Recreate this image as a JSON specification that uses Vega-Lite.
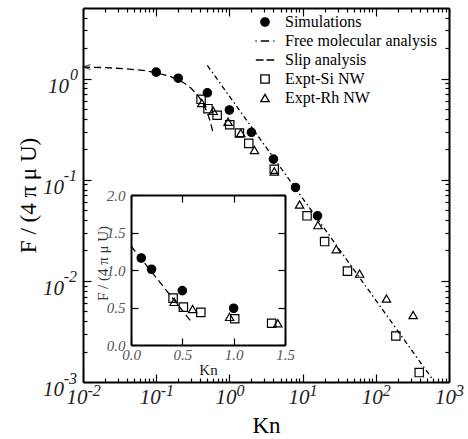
{
  "$schema": "https://vega.github.io/schema/vega-lite/v6.json",
  "width": 366,
  "height": 374,
  "autosize": "none",
  "padding": {"left": 83, "top": 8, "right": 19, "bottom": 57},
  "background": "white",
  "config": {"view": {"stroke": null}, "font": "Liberation Serif", "axis": {"grid": false}},
  "datasets": {
    "pts": [
      {"s": "Simulations", "kn": 0.1, "f": 1.16},
      {"s": "Simulations", "kn": 0.2, "f": 1.01},
      {"s": "Simulations", "kn": 0.5, "f": 0.725},
      {"s": "Simulations", "kn": 1.0, "f": 0.49},
      {"s": "Simulations", "kn": 2.0, "f": 0.295},
      {"s": "Simulations", "kn": 4.0, "f": 0.16},
      {"s": "Simulations", "kn": 8.0, "f": 0.084},
      {"s": "Simulations", "kn": 16.0, "f": 0.044},
      {"s": "Expt-Si NW", "kn": 0.41, "f": 0.625},
      {"s": "Expt-Si NW", "kn": 0.51, "f": 0.505},
      {"s": "Expt-Si NW", "kn": 0.68, "f": 0.435},
      {"s": "Expt-Si NW", "kn": 1.01, "f": 0.35},
      {"s": "Expt-Si NW", "kn": 1.37, "f": 0.29},
      {"s": "Expt-Si NW", "kn": 1.84, "f": 0.229},
      {"s": "Expt-Si NW", "kn": 4.1, "f": 0.127},
      {"s": "Expt-Si NW", "kn": 11.5, "f": 0.044},
      {"s": "Expt-Si NW", "kn": 20, "f": 0.0245},
      {"s": "Expt-Si NW", "kn": 41, "f": 0.0125},
      {"s": "Expt-Si NW", "kn": 188, "f": 0.00285},
      {"s": "Expt-Si NW", "kn": 392, "f": 0.00124},
      {"s": "Expt-Rh NW", "kn": 0.42, "f": 0.575},
      {"s": "Expt-Rh NW", "kn": 0.6, "f": 0.48},
      {"s": "Expt-Rh NW", "kn": 0.96, "f": 0.375},
      {"s": "Expt-Rh NW", "kn": 1.43, "f": 0.29},
      {"s": "Expt-Rh NW", "kn": 2.2, "f": 0.197},
      {"s": "Expt-Rh NW", "kn": 4.1, "f": 0.121},
      {"s": "Expt-Rh NW", "kn": 9.1, "f": 0.057},
      {"s": "Expt-Rh NW", "kn": 16.2, "f": 0.0356},
      {"s": "Expt-Rh NW", "kn": 28.8, "f": 0.0206},
      {"s": "Expt-Rh NW", "kn": 60, "f": 0.0118},
      {"s": "Expt-Rh NW", "kn": 140, "f": 0.0067},
      {"s": "Expt-Rh NW", "kn": 324, "f": 0.0046}
    ],
    "slip": [
      {"kn": 0, "f": 1.32},
      {"kn": 0.01, "f": 1.303},
      {"kn": 0.02, "f": 1.286},
      {"kn": 0.04, "f": 1.251},
      {"kn": 0.07, "f": 1.2},
      {"kn": 0.1, "f": 1.148},
      {"kn": 0.15, "f": 1.062},
      {"kn": 0.2, "f": 0.976},
      {"kn": 0.25, "f": 0.89},
      {"kn": 0.3, "f": 0.804},
      {"kn": 0.35, "f": 0.718},
      {"kn": 0.4, "f": 0.632},
      {"kn": 0.45, "f": 0.546},
      {"kn": 0.5, "f": 0.46},
      {"kn": 0.55, "f": 0.374},
      {"kn": 0.6, "f": 0.288}
    ],
    "freemol": [
      {"kn": 0.5, "f": 1.35},
      {"kn": 603, "f": 0.00105}
    ],
    "box": [
      {"x0": 0, "x1": 1.5, "y0": 0, "y1": 2}
    ]
  },
  "resolve": {"scale": {"x": "independent", "y": "independent"}},
  "layer": [
    {
      "data": {"name": "freemol"},
      "mark": {"type": "line", "stroke": "black", "strokeWidth": 1.3, "strokeDash": [5, 3, 1.5, 3]},
      "encoding": {
        "x": {"field": "kn", "type": "quantitative",
          "scale": {"type": "log", "domain": [0.01, 1000], "nice": false},
          "axis": {"orient": "bottom", "labels": false, "title": null,
            "values": [0.01,0.02,0.03,0.04,0.05,0.06,0.07,0.08,0.09,0.1,0.2,0.3,0.4,0.5,0.6,0.7,0.8,0.9,1,2,3,4,5,6,7,8,9,10,20,30,40,50,60,70,80,90,100,200,300,400,500,600,700,800,900,1000],
            "tickSize": {"condition": {"test": "abs(log(datum.value)/LN10 - round(log(datum.value)/LN10)) < 0.001", "value": -8}, "value": -4},
            "tickColor": "black", "tickWidth": 1.2, "domainColor": "black", "domainWidth": 2}},
        "y": {"field": "f", "type": "quantitative",
          "scale": {"type": "log", "domain": [0.001, 5], "nice": false},
          "axis": {"orient": "left", "labels": false, "title": null,
            "values": [0.001,0.002,0.003,0.004,0.005,0.006,0.007,0.008,0.009,0.01,0.02,0.03,0.04,0.05,0.06,0.07,0.08,0.09,0.1,0.2,0.3,0.4,0.5,0.6,0.7,0.8,0.9,1,2,3,4],
            "tickSize": {"condition": {"test": "abs(log(datum.value)/LN10 - round(log(datum.value)/LN10)) < 0.001", "value": -8}, "value": -4},
            "tickColor": "black", "tickWidth": 1.2, "domainColor": "black", "domainWidth": 2}}
      }
    },
    {
      "data": {"name": "slip"},
      "transform": [{"filter": "datum.kn > 0"}],
      "mark": {"type": "line", "stroke": "black", "strokeWidth": 1.3, "strokeDash": [7, 4]},
      "encoding": {
        "x": {"field": "kn", "type": "quantitative",
          "scale": {"type": "log", "domain": [0.01, 1000], "nice": false},
          "axis": {"orient": "bottom", "values": [0.01, 0.1, 1, 10, 100, 1000],
            "ticks": false, "tickSize": 0, "domain": false,
            "labelExpr": "'10'", "labelFont": "Liberation Serif", "labelFontStyle": "italic", "labelFontSize": 21, "labelColor": "#222",
            "labelAlign": "right", "labelBaseline": "alphabetic", "labelPadding": 21,
            "labelOffset": {"condition": {"test": "datum.value < 1", "value": 4}, "value": 6.5},
            "labelOverlap": false, "labelFlush": false, "labelBound": false,
            "title": "Kn", "titleFont": "Liberation Serif", "titleFontSize": 23, "titleFontWeight": "normal", "titleColor": "black",
            "titleBaseline": "alphabetic", "titleY": 50}},
        "y": {"field": "f", "type": "quantitative",
          "scale": {"type": "log", "domain": [0.001, 5], "nice": false},
          "axis": {"orient": "left", "values": [0.001, 0.01, 0.1, 1],
            "ticks": false, "tickSize": 0, "domain": false,
            "labelExpr": "'10'", "labelFont": "Liberation Serif", "labelFontStyle": "italic", "labelFontSize": 21, "labelColor": "#222",
            "labelAlign": "right", "labelBaseline": "alphabetic", "labelOffset": 13.5,
            "labelPadding": {"condition": {"test": "datum.value >= 1", "value": 14.5}, "value": 19.5},
            "labelOverlap": false, "labelFlush": false, "labelBound": false,
            "title": "F / (4 π μ U)", "titleFont": "Liberation Serif", "titleFontSize": 23, "titleFontWeight": "normal", "titleColor": "black",
            "titleAngle": -90, "titleBaseline": "alphabetic", "titleAlign": "center", "titleX": -48, "titleY": 187}}
      }
    },
    {
      "data": {"name": "slip"},
      "transform": [{"filter": "datum.kn == 0.01"}],
      "mark": {"type": "point", "shape": "M2.4,-0.8L0,0L2.4,0.8", "size": 40, "stroke": "black", "strokeWidth": 1.1, "fill": "transparent"},
      "encoding": {
        "x": {"field": "kn", "type": "quantitative",
          "scale": {"type": "log", "domain": [0.01, 1000], "nice": false},
          "axis": {"orient": "bottom", "values": [0.01, 0.1, 1, 10, 100, 1000],
            "ticks": false, "tickSize": 0, "domain": false,
            "labelExpr": "'' + round(log(datum.value)/LN10)", "labelFont": "Liberation Serif", "labelFontStyle": "italic", "labelFontSize": 16, "labelColor": "#222",
            "labelAlign": "left", "labelBaseline": "alphabetic", "labelPadding": 13,
            "labelOffset": {"condition": {"test": "datum.value < 1", "value": 4}, "value": 6.5},
            "labelOverlap": false, "labelFlush": false, "labelBound": false, "title": null}},
        "y": {"field": "f", "type": "quantitative",
          "scale": {"type": "log", "domain": [0.001, 5], "nice": false},
          "axis": {"orient": "left", "values": [0.001, 0.01, 0.1, 1],
            "ticks": false, "tickSize": 0, "domain": false,
            "labelExpr": "'' + round(log(datum.value)/LN10)", "labelFont": "Liberation Serif", "labelFontStyle": "italic", "labelFontSize": 16, "labelColor": "#222",
            "labelAlign": "right", "labelBaseline": "alphabetic", "labelOffset": 1,
            "labelPadding": {"condition": {"test": "datum.value >= 1", "value": 5.5}, "value": 6.5},
            "labelOverlap": false, "labelFlush": false, "labelBound": false, "title": null}}
      }
    },
    {
      "data": {"name": "pts"},
      "mark": {"type": "point", "size": 70, "strokeWidth": 1.2, "opacity": 1},
      "encoding": {
        "x": {"field": "kn", "type": "quantitative",
          "scale": {"type": "log", "domain": [0.01, 1000], "nice": false},
          "axis": {"orient": "top", "labels": false, "title": null,
            "values": [0.01,0.02,0.03,0.04,0.05,0.06,0.07,0.08,0.09,0.1,0.2,0.3,0.4,0.5,0.6,0.7,0.8,0.9,1,2,3,4,5,6,7,8,9,10,20,30,40,50,60,70,80,90,100,200,300,400,500,600,700,800,900,1000],
            "tickSize": {"condition": {"test": "abs(log(datum.value)/LN10 - round(log(datum.value)/LN10)) < 0.001", "value": -8}, "value": -4},
            "tickColor": "black", "tickWidth": 1.2, "domainColor": "black", "domainWidth": 2}},
        "y": {"field": "f", "type": "quantitative",
          "scale": {"type": "log", "domain": [0.001, 5], "nice": false},
          "axis": {"orient": "right", "labels": false, "title": null,
            "values": [0.001,0.002,0.003,0.004,0.005,0.006,0.007,0.008,0.009,0.01,0.02,0.03,0.04,0.05,0.06,0.07,0.08,0.09,0.1,0.2,0.3,0.4,0.5,0.6,0.7,0.8,0.9,1,2,3,4],
            "tickSize": {"condition": {"test": "abs(log(datum.value)/LN10 - round(log(datum.value)/LN10)) < 0.001", "value": -8}, "value": -4},
            "tickColor": "black", "tickWidth": 1.2, "domainColor": "black", "domainWidth": 2}},
        "shape": {"field": "s", "type": "nominal",
          "scale": {"domain": ["Simulations", "Free molecular analysis", "Slip analysis", "Expt-Si NW", "Expt-Rh NW"],
                    "range": ["circle", "M-2.27,0H-2.0M-1.0,0H1.0M2.0,0H2.27", "M-2.2,0H-0.35M0.35,0H2.2", "square", "triangle-up"]},
          "legend": {"orient": "none", "legendX": 174, "legendY": 6, "title": null, "padding": 0,
            "labelFont": "Liberation Serif", "labelFontSize": 16, "labelColor": "black", "labelLimit": 300,
            "symbolSize": 70, "symbolStrokeWidth": 1.3, "labelOffset": 12, "rowPadding": 3}},
        "fill": {"field": "s", "type": "nominal",
          "scale": {"domain": ["Simulations", "Free molecular analysis", "Slip analysis", "Expt-Si NW", "Expt-Rh NW"],
                    "range": ["black", "transparent", "transparent", "transparent", "transparent"]},
          "legend": {"orient": "none", "legendX": 174, "legendY": 6, "title": null, "padding": 0,
            "labelFont": "Liberation Serif", "labelFontSize": 16, "labelColor": "black", "labelLimit": 300,
            "symbolSize": 70, "symbolStrokeWidth": 1.3, "labelOffset": 12, "rowPadding": 3}},
        "stroke": {"field": "s", "type": "nominal",
          "scale": {"domain": ["Simulations", "Free molecular analysis", "Slip analysis", "Expt-Si NW", "Expt-Rh NW"],
                    "range": ["black", "black", "black", "black", "black"]},
          "legend": {"orient": "none", "legendX": 174, "legendY": 6, "title": null, "padding": 0,
            "labelFont": "Liberation Serif", "labelFontSize": 16, "labelColor": "black", "labelLimit": 300,
            "symbolSize": 70, "symbolStrokeWidth": 1.3, "labelOffset": 12, "rowPadding": 3}}
      }
    },
    {
      "data": {"name": "box"},
      "mark": {"type": "rect", "fill": "white"},
      "encoding": {
        "x": {"field": "x0", "type": "quantitative",
          "scale": {"type": "linear", "domain": [0, 1.5], "range": [48, 202], "nice": false, "zero": false},
          "axis": {"orient": "bottom", "offset": -37, "zindex": 1, "values": [0, 0.5, 1, 1.5], "format": ".1f",
            "tickSize": -7, "tickColor": "black", "tickWidth": 1.2, "domainColor": "black", "domainWidth": 2,
            "labelFont": "Liberation Serif", "labelFontStyle": "italic", "labelFontSize": 15, "labelColor": "#555",
            "labelBaseline": "top", "labelPadding": 9, "labelFlush": false, "labelBound": false, "labelOverlap": false,
            "title": "Kn", "titleFont": "Liberation Serif", "titleFontSize": 15, "titleFontWeight": "normal", "titleColor": "#222",
            "titleBaseline": "alphabetic", "titleY": 29}},
        "x2": {"field": "x1"},
        "y": {"field": "y0", "type": "quantitative",
          "scale": {"type": "linear", "domain": [0, 2], "range": [337, 187], "nice": false, "zero": false},
          "axis": {"orient": "left", "offset": -48, "zindex": 1, "values": [0, 0.5, 1, 1.5, 2], "format": ".1f",
            "tickSize": -7, "tickColor": "black", "tickWidth": 1.2, "domainColor": "black", "domainWidth": 2,
            "labelFont": "Liberation Serif", "labelFontStyle": "italic", "labelFontSize": 15, "labelColor": "#555",
            "labelAlign": "right", "labelBaseline": "middle", "labelPadding": 13, "labelFlush": false, "labelBound": false, "labelOverlap": false,
            "title": "F / (4 π μ U)", "titleFont": "Liberation Serif", "titleFontSize": 15, "titleFontWeight": "normal", "titleColor": "#333",
            "titleAngle": -90, "titleBaseline": "alphabetic", "titleAlign": "center", "titleX": -24, "titleY": 255}},
        "y2": {"field": "y1"}
      }
    },
    {
      "data": {"name": "slip"},
      "mark": {"type": "line", "stroke": "black", "strokeWidth": 1.3, "strokeDash": [7, 4]},
      "encoding": {
        "x": {"field": "kn", "type": "quantitative",
          "scale": {"type": "linear", "domain": [0, 1.5], "range": [48, 202], "nice": false, "zero": false},
          "axis": {"orient": "top", "offset": -187, "zindex": 1, "values": [0, 0.5, 1, 1.5], "labels": false, "title": null,
            "tickSize": -7, "tickColor": "black", "tickWidth": 1.2, "domainColor": "black", "domainWidth": 2}},
        "y": {"field": "f", "type": "quantitative",
          "scale": {"type": "linear", "domain": [0, 2], "range": [337, 187], "nice": false, "zero": false},
          "axis": {"orient": "right", "offset": -164, "zindex": 1, "values": [0, 0.5, 1, 1.5, 2], "labels": false, "title": null,
            "tickSize": -7, "tickColor": "black", "tickWidth": 1.2, "domainColor": "black", "domainWidth": 2}}
      }
    },
    {
      "data": {"name": "pts"},
      "transform": [{"filter": "datum.kn <= 1.5"}],
      "mark": {"type": "point", "size": 70, "strokeWidth": 1.2, "opacity": 1},
      "encoding": {
        "x": {"field": "kn", "type": "quantitative",
          "scale": {"type": "linear", "domain": [0, 1.5], "range": [48, 202], "nice": false, "zero": false},
          "axis": null},
        "y": {"field": "f", "type": "quantitative",
          "scale": {"type": "linear", "domain": [0, 2], "range": [337, 187], "nice": false, "zero": false},
          "axis": null},
        "shape": {"field": "s", "type": "nominal", "legend": null},
        "fill": {"field": "s", "type": "nominal", "legend": null},
        "stroke": {"field": "s", "type": "nominal", "legend": null}
      }
    }
  ]
}
